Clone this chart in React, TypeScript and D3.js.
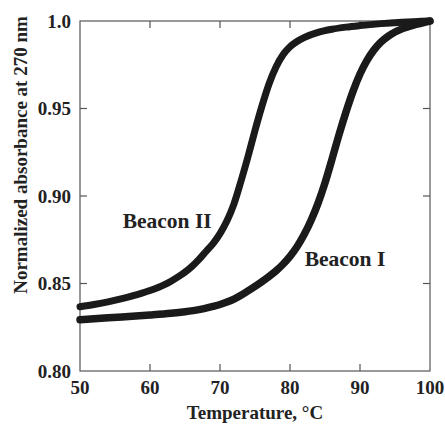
import React from 'react'
import * as d3 from 'd3'

// Beacon I melting curve (temperature °C, normalized absorbance)
const beacon1Temps = [50, 53, 56, 60, 63, 65, 67, 68, 69, 70, 71, 72, 73, 74, 75, 76, 77, 78, 79, 80, 81, 82, 83, 84, 85, 86, 87, 88, 89, 90, 91, 92, 93, 94, 95, 96, 98, 100]
const beacon1Abs = [0.8293, 0.8301, 0.8309, 0.832, 0.833, 0.8339, 0.8351, 0.8359, 0.8369, 0.838, 0.8394, 0.8411, 0.8433, 0.8458, 0.8484, 0.8511, 0.854, 0.8572, 0.861, 0.8655, 0.871, 0.8778, 0.886, 0.8958, 0.9075, 0.921, 0.935, 0.948, 0.9598, 0.9697, 0.9775, 0.9835, 0.988, 0.9912, 0.9937, 0.9955, 0.998, 1.0]

// Beacon II melting curve
const beacon2Temps = [50, 52, 54, 56, 58, 60, 62, 63, 64, 65, 66, 67, 68, 69, 70, 71, 72, 73, 74, 75, 76, 77, 78, 79, 80, 81, 82, 84, 86, 88, 90, 93, 96, 100]
const beacon2Abs = [0.8367, 0.838, 0.8395, 0.8413, 0.8435, 0.846, 0.8492, 0.8513, 0.8538, 0.8565, 0.8598, 0.8638, 0.8683, 0.8728, 0.8785, 0.8858, 0.8955, 0.9085, 0.9225, 0.9375, 0.9515, 0.964, 0.9737, 0.9807, 0.9853, 0.9883, 0.9905, 0.9935, 0.9953, 0.9965, 0.9974, 0.9985, 0.9993, 1.0]

const xTicks = [50, 60, 70, 80, 90, 100]
const yTicks = [0.8, 0.85, 0.9, 0.95, 1.0]
const yTickLabels = ['0.80', '0.85', '0.90', '0.95', '1.0']

const labels = [
  {text: 'Beacon II', t: 56.1, a: 0.8817},
  {text: 'Beacon I', t: 82.1, a: 0.86}
]

const font = '"Liberation Serif", "Times New Roman", serif'
const ink = '#222'

export default function App() {
  const x = d3.scaleLinear().domain([50, 100]).range([80, 430])
  const y = d3.scaleLinear().domain([0.8, 1.0]).range([371, 21])

  const line = d3
    .line<[number, number]>()
    .curve(d3.curveMonotoneX)
    .x(d => x(d[0]))
    .y(d => y(d[1]))

  const s1 = beacon1Temps.map((t, i) => [t, beacon1Abs[i]] as [number, number])
  const s2 = beacon2Temps.map((t, i) => [t, beacon2Abs[i]] as [number, number])

  const tickLen = 7
  const [x0, x1] = x.range()
  const [y0, y1] = y.range()

  return (
    <svg
      width={445}
      height={424}
      style={{position: 'absolute', left: 0, top: 0, display: 'block', background: '#fff'}}
      fontFamily={font}
      fontWeight="bold"
    >
      {/* frame */}
      <rect x={x0} y={y1} width={x1 - x0} height={y0 - y1} fill="none" stroke="#555" strokeWidth={1.2} />

      {/* inward ticks on all four sides */}
      {xTicks.slice(1, -1).map(t => (
        <g key={'xt' + t} stroke="#555" strokeWidth={1.2}>
          <line x1={x(t)} x2={x(t)} y1={y0} y2={y0 - tickLen} />
          <line x1={x(t)} x2={x(t)} y1={y1} y2={y1 + tickLen} />
        </g>
      ))}
      {yTicks.slice(1, -1).map(v => (
        <g key={'yt' + v} stroke="#555" strokeWidth={1.2}>
          <line x1={x0} x2={x0 + tickLen} y1={y(v)} y2={y(v)} />
          <line x1={x1} x2={x1 - tickLen} y1={y(v)} y2={y(v)} />
        </g>
      ))}

      {/* tick labels */}
      {xTicks.map(t => (
        <text key={'xl' + t} x={x(t)} y={y0 + 23} textAnchor="middle" fontSize={19} fill={ink}>
          {t}
        </text>
      ))}
      {yTicks.map((v, i) => (
        <text key={'yl' + v} x={x0 - 9} y={y(v) + 6.5} textAnchor="end" fontSize={19} fill={ink}>
          {yTickLabels[i]}
        </text>
      ))}

      {/* axis titles */}
      <text x={255} y={419} textAnchor="middle" fontSize={19} fill={ink}>
        Temperature, °C
      </text>
      <text
        transform="translate(27,155) rotate(-90)"
        textAnchor="middle"
        fontSize={19}
        fill={ink}
      >
        Normalized absorbance at 270 nm
      </text>

      {/* data */}
      <path d={line(s1) || ''} fill="none" stroke="#1a1a1a" strokeWidth={7.5} strokeLinecap="round" strokeLinejoin="round" />
      <path d={line(s2) || ''} fill="none" stroke="#1a1a1a" strokeWidth={7} strokeLinecap="round" strokeLinejoin="round" />

      {labels.map(l => (
        <text key={l.text} x={x(l.t)} y={y(l.a)} fontSize={21.5} fill={ink}>
          {l.text}
        </text>
      ))}
    </svg>
  )
}
